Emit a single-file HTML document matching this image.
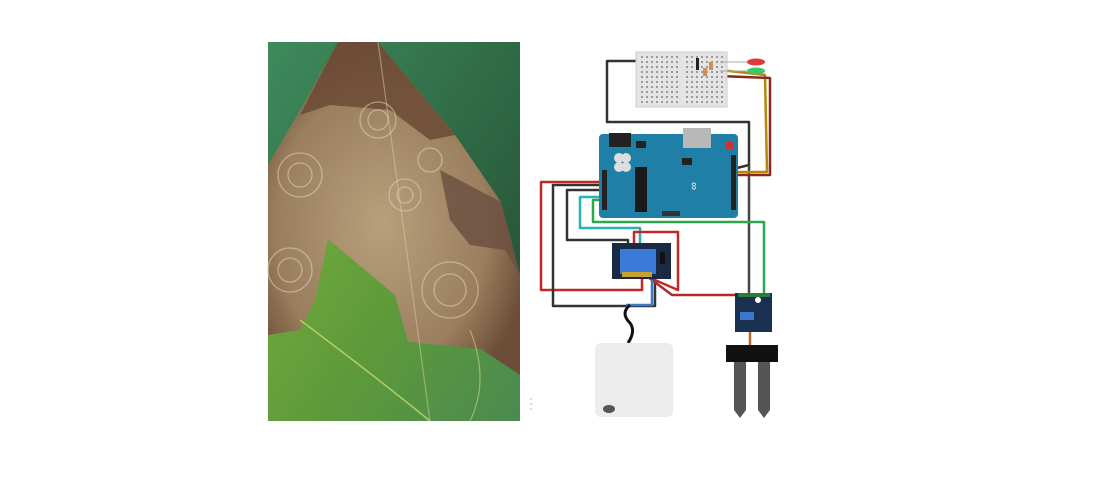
<!DOCTYPE html>
<html><head><style>
html,body{margin:0;padding:0;background:#fff;width:1110px;height:500px;overflow:hidden}
</style></head><body>
<svg width="1110" height="500" viewBox="0 0 1110 500" xmlns="http://www.w3.org/2000/svg">
<defs>
<linearGradient id="bg" x1="0" y1="0" x2="1" y2="1">
<stop offset="0" stop-color="#3f8a5c"/><stop offset="0.5" stop-color="#2f6a45"/><stop offset="1" stop-color="#244a30"/>
</linearGradient>
<radialGradient id="lesion" cx="0.45" cy="0.55" r="0.6">
<stop offset="0" stop-color="#b8a07c"/><stop offset="0.7" stop-color="#9a7e5e"/><stop offset="1" stop-color="#6b4d38"/>
</radialGradient>
<linearGradient id="green" x1="0" y1="0" x2="1" y2="1">
<stop offset="0" stop-color="#7fb640"/><stop offset="0.6" stop-color="#5e9a3a"/><stop offset="1" stop-color="#4a8a50"/>
</linearGradient>
</defs>
<!-- photo -->
<rect x="268" y="42" width="252" height="379" fill="url(#bg)"/>
<polygon points="268,421 268,165 301,109 338,42 378,42 455,135 501,202 520,275 520,421" fill="url(#green)"/>
<polygon points="268,165 301,109 338,42 378,42 455,135 501,202 520,275 520,375 481,349 408,342 395,295 328,239 315,300 300,330 268,335" fill="url(#lesion)"/>
<polygon points="338,42 378,42 455,135 430,140 390,110 330,105 300,115" fill="#6b4a35" opacity="0.85"/>
<polygon points="440,170 501,202 520,275 505,250 470,245 450,220" fill="#6a4e40" opacity="0.8"/>
<g fill="none" stroke="#e0d4ba" stroke-width="1.3" opacity="0.55">
<circle cx="378" cy="120" r="18"/><circle cx="378" cy="120" r="10"/>
<circle cx="300" cy="175" r="22"/><circle cx="300" cy="175" r="12"/>
<circle cx="405" cy="195" r="16"/><circle cx="405" cy="195" r="8"/>
<circle cx="450" cy="290" r="28"/><circle cx="450" cy="290" r="16"/>
<circle cx="290" cy="270" r="22"/><circle cx="290" cy="270" r="12"/>
<circle cx="430" cy="160" r="12"/>
</g>
<path d="M300,320 Q380,380 430,421" stroke="#c7dc6f" stroke-width="1.5" fill="none" opacity="0.8"/>
<line x1="378" y1="42" x2="430" y2="421" stroke="#d8cdb0" stroke-width="1.2" opacity="0.5"/>
<path d="M470,421 Q490,380 470,330" stroke="#c7dc6f" stroke-width="1.2" fill="none" opacity="0.6"/>

<!-- circuit wires -->
<g fill="none" stroke-width="2.5" stroke-linejoin="round">
<polyline points="640,61 607,61 607,122 749,122 749,165 737,168" stroke="#333"/>
<polyline points="749,165 749,293" stroke="#444"/>
<polyline points="720,70 765,75 767,172 737,172" stroke="#b8860b"/>
<polyline points="720,76 770,78 770,175 737,175" stroke="#8b2a1a"/>
<polyline points="604,182 541,182 541,290 642,290 642,270" stroke="#c0282a"/>
<polyline points="604,185 553,185 553,306 655,306 655,277" stroke="#333"/>
<polyline points="604,190 567,190 567,240 628,240 628,245" stroke="#333"/>
<polyline points="604,197 580,197 580,228 640,228 640,245" stroke="#2ab0b8"/>
<polyline points="604,200 593,200 593,222 764,222 764,293" stroke="#2aa84a"/>
<polyline points="634,245 634,232 678,232 678,290 648,277" stroke="#c0282a"/>
<polyline points="648,277 672,295 735,295" stroke="#b02a2a"/>
<polyline points="652,280 652,305 626,305" stroke="#3a7bc0"/>
<path d="M630,305 q-10,8 0,18 q6,8 -2,20" stroke="#111" stroke-width="3"/>
<polyline points="750,330 750,350 M756,330 756,350" stroke="#b86a2a"/>
</g>
<!-- breadboard -->
<rect x="636" y="52" width="91" height="55" fill="#e4e4e4" stroke="#ccc"/>
<pattern id="holes" width="5" height="5" patternUnits="userSpaceOnUse"><rect x="1" y="1" width="2" height="2" fill="#9a9a9a"/></pattern>
<rect x="640" y="55" width="40" height="50" fill="url(#holes)"/>
<rect x="686" y="55" width="38" height="50" fill="url(#holes)"/>
<rect x="696" y="58" width="3" height="12" fill="#222"/>
<rect x="703" y="68" width="4" height="8" fill="#c9905a"/>
<rect x="709" y="62" width="4" height="8" fill="#c9905a"/>
<ellipse cx="756" cy="62" rx="9" ry="3.5" fill="#e03a3a"/>
<ellipse cx="756" cy="71" rx="9" ry="3.5" fill="#3ac86a"/>
<line x1="720" y1="62" x2="747" y2="62" stroke="#aaa"/><line x1="720" y1="71" x2="747" y2="71" stroke="#aaa"/>
<!-- arduino -->
<rect x="599" y="134" width="139" height="84" rx="4" fill="#1f7fa6"/>
<rect x="609" y="133" width="22" height="14" fill="#222"/>
<rect x="683" y="128" width="28" height="20" fill="#b8b8b8"/>
<rect x="636" y="141" width="10" height="7" fill="#222"/>
<circle cx="619" cy="158" r="5" fill="#ddd"/><circle cx="626" cy="158" r="5" fill="#ddd"/>
<circle cx="619" cy="167" r="5" fill="#ddd"/><circle cx="626" cy="167" r="5" fill="#ddd"/>
<rect x="635" y="167" width="12" height="45" fill="#1a1a1a"/>
<rect x="682" y="158" width="10" height="7" fill="#222"/>
<rect x="731" y="155" width="5" height="55" fill="#222"/>
<rect x="602" y="170" width="5" height="40" fill="#222"/>
<rect x="662" y="211" width="18" height="5" fill="#333"/>
<text x="697" y="190" font-family="Liberation Sans,sans-serif" font-size="11" fill="#fff" transform="rotate(-90 697 190)">∞</text>
<rect x="726" y="142" width="7" height="7" fill="#c33"/>
<!-- relay -->
<rect x="612" y="243" width="59" height="36" fill="#1a2a44"/>
<rect x="620" y="249" width="36" height="25" fill="#3a7ad8"/>
<rect x="660" y="252" width="5" height="12" fill="#111"/>
<rect x="622" y="272" width="30" height="5" fill="#c8a030"/>
<!-- pump -->
<rect x="595" y="343" width="78" height="74" rx="6" fill="#ececec"/>
<ellipse cx="609" cy="409" rx="6" ry="4" fill="#555"/>
<!-- sensor module -->
<rect x="735" y="293" width="37" height="39" fill="#1a3050"/>
<rect x="740" y="312" width="14" height="8" fill="#3a78d0"/>
<circle cx="758" cy="300" r="3" fill="#fff"/>
<rect x="738" y="293" width="32" height="4" fill="#2c7a40"/>
<!-- probe -->
<path d="M726,345 H778 V362 H770 V410 L764,418 L758,410 V362 H746 V410 L740,418 L734,410 V362 H726 Z" fill="#555"/>
<rect x="726" y="345" width="52" height="17" fill="#111"/>
<circle cx="531" cy="399" r="0.8" fill="#aaa"/><circle cx="531" cy="404" r="0.8" fill="#aaa"/><circle cx="531" cy="409" r="0.8" fill="#aaa"/>
</svg>
</body></html>
